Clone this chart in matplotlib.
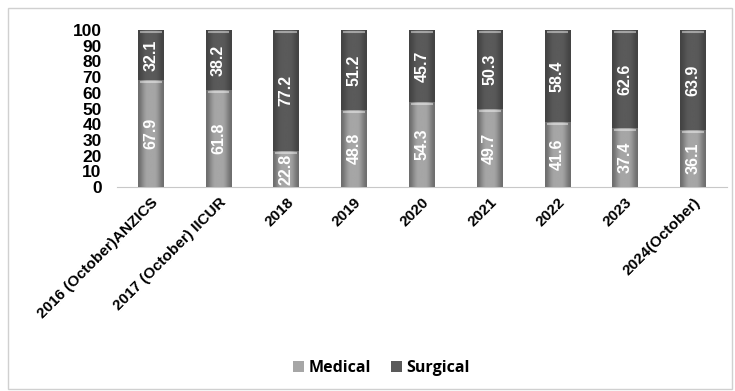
import numpy as np
import matplotlib
matplotlib.use("Agg")
from matplotlib import pyplot as plt
from matplotlib.patches import Rectangle

plt.rcParams['font.family'] = ['Liberation Sans', 'DejaVu Sans']

categories = ['2016 (October)ANZICS', '2017 (October) IICUR', '2018', '2019',
              '2020', '2021', '2022', '2023', '2024(October)']
medical = [67.9, 61.8, 22.8, 48.8, 54.3, 49.7, 41.6, 37.4, 36.1]
surgical = [32.1, 38.2, 77.2, 51.2, 45.7, 50.3, 58.4, 62.6, 63.9]

fig = plt.figure(figsize=(7.35, 3.91), dpi=100)
ax = fig.add_axes([0.159, 0.522, 0.830, 0.401])

x = np.arange(len(categories))
w = 0.38
med_bars = ax.bar(x, medical, w, color='#a6a6a6', label='Medical', zorder=2)
sur_bars = ax.bar(x, surgical, w, bottom=medical, color='#5a5a5a', label='Surgical', zorder=2)

# horizontal gradient to fake the bevel look
grad = np.array([0.55, 0.8, 1.0, 1.0, 1.0, 1.0, 0.8, 0.55])
for bars in (med_bars, sur_bars):
    for b in bars:
        base = b.get_facecolor()[0]
        img = np.zeros((1, grad.size, 3))
        for i in range(3):
            img[0, :, i] = np.clip(base * grad + (1 - grad) * 0.15, 0, 1)
        im = ax.imshow(img, extent=[b.get_x(), b.get_x() + b.get_width(),
                                    b.get_y(), b.get_y() + b.get_height()],
                       aspect='auto', interpolation='bicubic', zorder=3)
        im.set_clip_path(b)
        # light edge at the top of each segment
        top = b.get_y() + b.get_height()
        ax.plot([b.get_x() + 0.03, b.get_x() + b.get_width() - 0.03], [top - 1.2, top - 1.2],
                color='white', alpha=0.45, lw=1.5, zorder=4, solid_capstyle='butt')

for i in range(len(categories)):
    ax.text(x[i], medical[i] / 2, f'{medical[i]:.1f}', rotation=90, ha='center', va='center',
            color='white', fontsize=11.5, fontweight='bold', zorder=5)
    ax.text(x[i], medical[i] + surgical[i] / 2, f'{surgical[i]:.1f}', rotation=90, ha='center',
            va='center', color='white', fontsize=11.5, fontweight='bold', zorder=5)

ax.set_xlim(-0.5, len(categories) - 0.5)
ax.set_ylim(0, 100)
ax.set_yticks(range(0, 101, 10))
ax.set_xticks(x)
ax.set_xticklabels(categories, rotation=45, ha='right', rotation_mode='anchor',
                   fontsize=11, fontweight='bold')
for t in ax.get_yticklabels():
    t.set_fontweight('bold')
    t.set_fontsize(12.5)
ax.tick_params(axis='both', length=0)
ax.tick_params(axis='x', pad=6)
ax.tick_params(axis='y', pad=11)
for s in ['top', 'right', 'left']:
    ax.spines[s].set_visible(False)
ax.spines['bottom'].set_color('#c8c8c8')

fig.legend(handles=[med_bars, sur_bars], labels=['Medical', 'Surgical'], loc='center',
           bbox_to_anchor=(0.519, 0.058), ncol=2, frameon=False, handlelength=0.7,
           handleheight=0.7, handletextpad=0.3, columnspacing=1.2,
           prop={'size': 11.5, 'weight': 'bold', 'family': 'Open Sans'})

fig.patches.append(Rectangle((0.011, 0.005), 0.985, 0.975, transform=fig.transFigure,
                             fill=False, edgecolor='#d0d0d0', lw=1))

fig.savefig('out.png', dpi=100)
